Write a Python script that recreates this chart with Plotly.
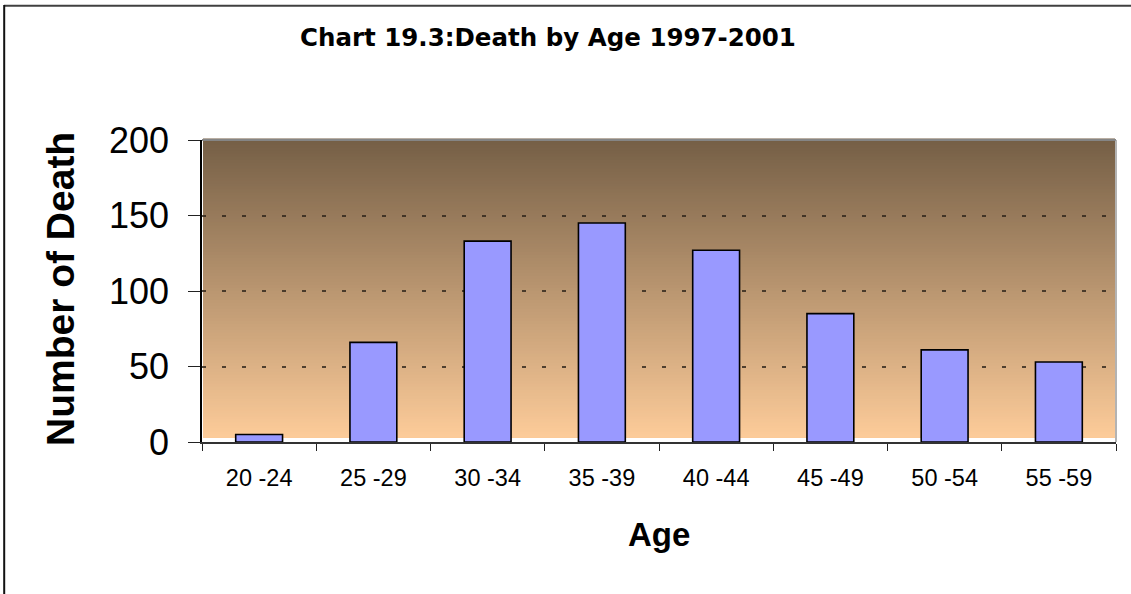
import plotly.graph_objects as go

# ---- data ----
age_groups = ["20 -24", "25 -29", "30 -34", "35 -39", "40 -44", "45 -49", "50 -54", "55 -59"]
deaths = [5, 66, 133, 145, 127, 85, 61, 53]
y_ticks = [0, 50, 100, 150, 200]

# ---- layout geometry ----
W, H = 1131, 594
L, R, T, B = 202, 15, 140, 152
PW = W - L - R
PH = H - T - B


def px(x):
    return (x - L) / PW


def py(y):
    return (H - B - y) / PH


ARIAL = "Liberation Sans, Arial, sans-serif"

fig = go.Figure(
    go.Bar(
        x=age_groups,
        y=deaths,
        marker=dict(color="#9999FF", line=dict(color="black", width=1.6)),
        hoverinfo="x+y",
    )
)

shapes = []
# gradient background of plot area (style only): stacked rects, each from bottom up
top_c = (117, 95, 70)
bot_c = (252, 203, 153)
g_top, g_bot = py(138.5), py(437.5)
n = 100
for i in range(n):
    t = i / (n - 1)
    c = tuple(round(top_c[k] + (bot_c[k] - top_c[k]) * t) for k in range(3))
    y1 = g_top + (g_bot - g_top) * i / n
    shapes.append(dict(type="rect", xref="paper", yref="paper",
                       x0=px(203), x1=px(1115), y0=g_bot, y1=y1,
                       fillcolor="rgb(%d,%d,%d)" % c, line=dict(width=0), layer="below"))

# plot-area border (top and right, gray)
shapes.append(dict(type="line", xref="paper", yref="paper", x0=0, x1=1, y0=1, y1=1,
                   line=dict(color="#858585", width=2), layer="above"))
shapes.append(dict(type="line", xref="paper", yref="paper", x0=1, x1=1, y0=0, y1=1,
                   line=dict(color="#9a9a9a", width=1.5), layer="above"))
# outer chart border (top and left visible)
shapes.append(dict(type="line", xref="paper", yref="paper", x0=px(4), x1=px(1131), y0=py(5.8), y1=py(5.8),
                   line=dict(color="#404040", width=2), layer="above"))
shapes.append(dict(type="line", xref="paper", yref="paper", x0=px(4.2), x1=px(4.2), y0=py(5), y1=py(594),
                   line=dict(color="#111111", width=2), layer="above"))

annotations = [
    dict(text="<b>Chart 19.3:Death by Age 1997-2001</b>", xref="paper", yref="paper",
         x=px(547.5), y=py(37.5), xanchor="center", yanchor="middle", showarrow=False,
         font=dict(family="DejaVu Sans, sans-serif", size=24.5, color="black")),
    dict(text="<b>Age</b>", xref="paper", yref="paper",
         x=px(659), y=py(534), xanchor="center", yanchor="middle", showarrow=False,
         font=dict(family=ARIAL, size=33, color="black")),
    dict(text="<b>Number of Death</b>", xref="paper", yref="paper", textangle=-90,
         x=px(60), y=py(289), xanchor="center", yanchor="middle", showarrow=False,
         font=dict(family=ARIAL, size=39, color="black")),
]

fig.update_layout(
    width=W, height=H,
    margin=dict(l=L, r=R, t=T, b=B, pad=0),
    paper_bgcolor="white",
    plot_bgcolor="white",
    showlegend=False,
    bargap=0.59,
    shapes=shapes,
    annotations=annotations,
    xaxis=dict(
        type="category",
        tickson="boundaries",
        ticks="outside", ticklen=7, tickwidth=1.3, tickcolor="#222",
        showline=True, linecolor="#333", linewidth=1.5,
        showgrid=False,
        tickfont=dict(family=ARIAL, size=23.5, color="black"),
        ticklabelstandoff=14,
        fixedrange=True,
    ),
    yaxis=dict(
        range=[0, 200],
        tickvals=y_ticks,
        ticks="outside", ticklen=12, tickwidth=1.3, tickcolor="#222",
        showline=True, linecolor="black", linewidth=1.5,
        showgrid=True, gridcolor="rgba(45,35,25,0.8)", gridwidth=2, griddash="4px,16px",
        zeroline=False,
        tickfont=dict(family=ARIAL, size=36, color="black"),
        ticklabelstandoff=12,
        fixedrange=True,
    ),
)

fig.write_html(
    "out.html",
    config={"displayModeBar": False},
    post_script="document.body.style.margin='0';document.body.style.overflow='hidden';",
)
